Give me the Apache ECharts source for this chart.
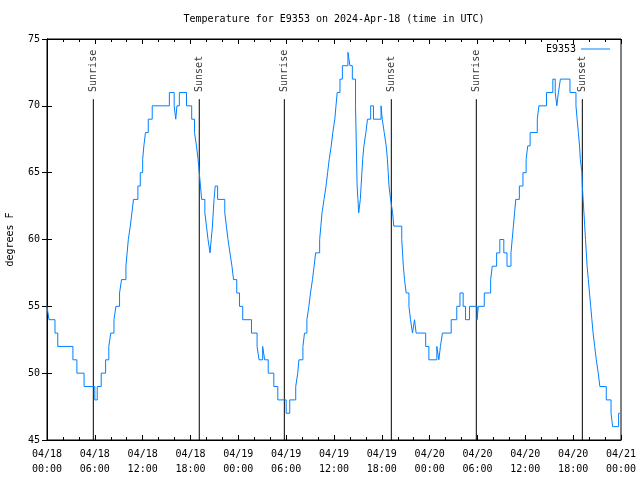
<!DOCTYPE html>
<html><head><meta charset="utf-8">
<script src="https://cdn.jsdelivr.net/npm/echarts@6/dist/echarts.min.js"></script>
<style>html,body{margin:0;padding:0;background:#fff}#c{width:640px;height:480px}</style>
</head><body><div id="c"></div>
<script>
const seriesName = 'E9353';
const titleText = 'Temperature for E9353 on 2024-Apr-18 (time in UTC)';
const yAxisTitle = 'degrees F';
const xTickLabels = ['04/18\n00:00','04/18\n06:00','04/18\n12:00','04/18\n18:00','04/19\n00:00','04/19\n06:00','04/19\n12:00','04/19\n18:00','04/20\n00:00','04/20\n06:00','04/20\n12:00','04/20\n18:00','04/21\n00:00'];
// hours since 04/18 00:00 UTC at which each reading value begins
const tempTimes = [0,0.25,1.0,1.35,3.25,3.75,4.65,6.0,6.3,6.8,7.35,7.75,8.0,8.4,8.65,9.1,9.35,9.9,10.05,10.2,10.45,10.65,10.85,11.4,11.7,12.0,12.15,12.35,12.7,13.2,15.35,15.95,16.15,16.3,16.6,17.5,18.15,18.5,18.75,18.95,19.1,19.25,19.4,19.8,20.0,20.2,20.45,20.6,20.75,20.85,20.95,21.1,21.4,22.3,22.5,22.7,22.95,23.2,23.4,23.8,24.15,24.55,25.65,26.35,26.6,27.05,27.3,27.75,28.45,28.95,30.0,30.45,31.2,31.45,31.6,32.1,32.3,32.6,32.85,33.05,33.3,33.5,33.7,34.2,34.35,34.5,34.75,35.0,35.2,35.4,35.65,35.85,36.1,36.25,36.4,36.75,37.05,37.75,38.0,38.3,38.7,38.8,38.9,39.0,39.1,39.3,39.4,39.5,39.6,39.75,40.0,40.2,40.6,40.95,41.9,42.05,42.3,42.55,42.7,42.8,42.9,43.1,43.35,43.5,44.5,44.6,44.7,44.85,45.05,45.4,45.6,45.85,46.1,46.3,47.5,47.9,48.9,49.15,49.35,49.6,50.7,51.4,51.8,52.2,52.5,53.0,53.95,54.1,54.85,55.65,55.85,56.4,56.8,57.3,57.7,58.2,58.35,58.5,58.65,58.8,59.25,59.7,60.1,60.3,60.6,61.5,61.7,62.65,63.45,63.75,63.95,64.15,64.4,65.6,66.35,66.5,66.65,66.8,66.9,67.1,67.15,67.25,67.35,67.45,67.55,67.65,67.75,67.9,68.05,68.2,68.35,68.5,68.7,68.9,69.15,69.35,70.15,70.75,70.95,71.7,71.85];
const tempValues = [55,54,53,52,51,50,49,48,49,50,51,52,53,54,55,56,57,58,59,60,61,62,63,64,65,66,67,68,69,70,71,70,69,70,71,70,69,68,67,66,65,64,63,62,61,60,59,60,61,62,63,64,63,62,61,60,59,58,57,56,55,54,53,52,51,52,51,50,49,48,47,48,49,50,51,52,53,54,55,56,57,58,59,60,61,62,63,64,65,66,67,68,69,70,71,72,73,74,73,72,70,67,64,63,62,63,64,65,66,67,68,69,70,69,70,69,68,67,66,65,64,63,62,61,60,59,58,57,56,55,54,53,54,53,52,51,52,51,52,53,54,55,56,55,54,55,54,55,56,57,58,59,60,59,58,59,60,61,62,63,64,65,66,67,68,69,70,71,72,71,70,71,72,71,70,69,68,67,66,65,64,63,62,61,60,59,58,57,56,55,54,53,52,51,50,49,48,47,46,47,47];
const sunTimes = [5.81,19.1,29.77,43.19,53.85,67.15];
const sunLabels = ['Sunrise','Sunset','Sunrise','Sunset','Sunrise','Sunset'];
const sunLineBottom = 45, sunLineTop = 70.5, sunLabelY = 71;

const FONT = 'DejaVu Sans Mono';
const chart = echarts.init(document.getElementById('c'), null, {renderer:'canvas'});
const tickStyle = {inside:true, length:5, lineStyle:{color:'#000', width:1}};
const sunLineSeries = sunTimes.map((t,i)=>({
  type:'line', silent:true, symbol:'none', z:2, animation:false,
  data:[[t,sunLineBottom],[t,sunLineTop]],
  lineStyle:{color:'#000', width:1}
}));
const option = {
  animation:false,
  backgroundColor:'#fff',
  graphic:[{type:'text', x:334, y:19, style:{text:titleText, font:'10px "'+FONT+'"', fill:'#000', textAlign:'center', textVerticalAlign:'middle', align:'center', verticalAlign:'middle'}}],
  legend:{show:true, data:[seriesName], orient:'horizontal', right:30, top:44, align:'right', icon:'rect', itemWidth:29, itemHeight:1, padding:0, itemGap:0,
          textStyle:{fontFamily:FONT, fontSize:10, color:'#000'}},
  grid:{left:47, right:19, top:39, bottom:40, show:true, borderColor:'#000', borderWidth:1, backgroundColor:'transparent', containLabel:false, outerBoundsMode:'none'},
  xAxis:[
    {type:'value', min:0, max:72, interval:6, position:'bottom',
     axisLine:{show:true, lineStyle:{color:'#000'}}, axisTick:tickStyle,
     minorTick:{show:true, splitNumber:3, length:3, lineStyle:{color:'#000'}},
     splitLine:{show:false}, minorSplitLine:{show:false},
     axisLabel:{formatter:v=>xTickLabels[Math.round(v/6)], fontFamily:FONT, fontSize:10, color:'#000', lineHeight:15, margin:7}},
    {type:'value', min:0, max:72, interval:6, position:'top',
     axisLine:{show:true, lineStyle:{color:'#000'}}, axisTick:tickStyle,
     minorTick:{show:true, splitNumber:3, length:3, lineStyle:{color:'#000'}},
     splitLine:{show:false}, axisLabel:{show:false}}
  ],
  yAxis:[
    {type:'value', min:45, max:75, interval:5, position:'left',
     name:yAxisTitle, nameLocation:'middle', nameGap:32, nameRotate:90,
     nameTextStyle:{fontFamily:FONT, fontSize:10, color:'#000'},
     axisLine:{show:true, lineStyle:{color:'#000'}}, axisTick:tickStyle,
     splitLine:{show:false},
     axisLabel:{fontFamily:FONT, fontSize:10, color:'#000', margin:7}},
    {type:'value', min:45, max:75, interval:5, position:'right',
     axisLine:{show:true, lineStyle:{color:'#000'}}, axisTick:tickStyle,
     splitLine:{show:false}, axisLabel:{show:false}}
  ],
  series:[
    ...sunLineSeries,
    {type:'scatter', silent:true, symbolSize:1, itemStyle:{color:'rgba(0,0,0,0)'}, z:4,
     data:sunTimes.map((t,i)=>[t,sunLabelY,sunLabels[i]]),
     label:{show:true, formatter:p=>p.value[2], rotate:90, position:[1,0], align:'left', verticalAlign:'middle',
            fontFamily:FONT, fontSize:10, color:'#000'}},
    {name:seriesName, type:'line', step:'end', symbol:'none', showSymbol:false, z:3,
     data:tempTimes.map((t,i)=>[t,tempValues[i]]),
     color:'#0080ff', itemStyle:{color:'#0080ff'}, lineStyle:{color:'#0080ff', width:1}}
  ]
};
chart.setOption(option);
</script></body></html>
